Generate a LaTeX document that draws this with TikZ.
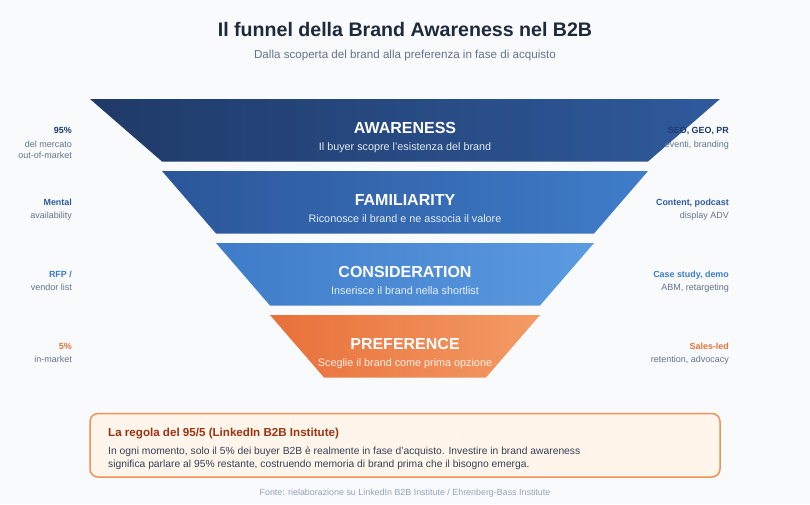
\documentclass[tikz,border=0pt]{standalone}
\usepackage{fontspec}
\setmainfont{Liberation Sans}
\usetikzlibrary{positioning}

\definecolor{bgpage}{HTML}{F8FAFC}
\definecolor{ink}{HTML}{1E293B}
\definecolor{slate}{HTML}{64748B}
\definecolor{bodyink}{HTML}{334155}
\definecolor{mute}{HTML}{94A3B8}
\definecolor{navy}{HTML}{1E3A6E}
\definecolor{midblue}{HTML}{2D5AA0}
\definecolor{skyblue}{HTML}{3D7CC9}
\definecolor{orange}{HTML}{E8733A}
\definecolor{awL}{HTML}{1F3A68}
\definecolor{awR}{HTML}{2F5A9C}
\definecolor{faL}{HTML}{2B5699}
\definecolor{faR}{HTML}{3F7DCA}
\definecolor{coL}{HTML}{3E7CC9}
\definecolor{coR}{HTML}{5B9BE0}
\definecolor{prL}{HTML}{E8703A}
\definecolor{prR}{HTML}{F49B65}
\definecolor{boxfill}{HTML}{FFF5EB}
\definecolor{boxline}{HTML}{F0925A}
\definecolor{boxhead}{HTML}{9A3412}

\tikzset{
  maintitle/.style={anchor=base, inner sep=0, text=ink, font=\fontsize{19.6}{24}\selectfont\bfseries},
  subtitle/.style={anchor=base, inner sep=0, text=slate, font=\fontsize{11.6}{14}\selectfont},
  stagetitle/.style={anchor=base, inner sep=0, text=white, font=\fontsize{16}{19}\selectfont\bfseries},
  stagesub/.style={anchor=base, inner sep=0, text=white, text opacity=0.88, font=\fontsize{10.8}{13}\selectfont},
  sidehead/.style={anchor=base east, inner sep=0, font=\fontsize{8.9}{11}\selectfont\bfseries},
  sidetext/.style={anchor=base east, inner sep=0, text=slate, font=\fontsize{9}{11}\selectfont},
  rulebox/.style={draw=boxline, fill=boxfill, line width=1.5pt, rounded corners=8pt,
    minimum width=630pt, minimum height=63.5pt, inner sep=0},
  boxtext/.style={anchor=base west, inner sep=0, text=bodyink, font=\fontsize{10.3}{13}\selectfont},
}

\begin{document}
\begin{tikzpicture}[x=1pt, y=-1pt]
  \fill[bgpage] (0,0) rectangle (810,504);
  \useasboundingbox (0,0) rectangle (810,504);

  % Heading
  \node[maintitle] (title) at (405,36) {Il funnel della Brand Awareness nel B2B};
  \node[subtitle] (subtitle) at (405,58) {Dalla scoperta del brand alla preferenza in fase di acquisto};

  % Awareness - widest band
  \shade[left color=awL, right color=awR] (90,99) -- (720,99) -- (648,161.5) -- (162,161.5) -- cycle;
  \node[stagetitle] (aw) at (405,133.5) {AWARENESS};
  \node[stagesub] (aw-sub) at (405,150.5) {Il buyer scopre l'esistenza del brand};

  % Familiarity
  \shade[left color=faL, right color=faR] (162,171) -- (648,171) -- (594,233.5) -- (216,233.5) -- cycle;
  \node[stagetitle] (fa) at (405,205.5) {FAMILIARITY};
  \node[stagesub] (fa-sub) at (405,222.5) {Riconosce il brand e ne associa il valore};

  % Consideration
  \shade[left color=coL, right color=coR] (216,243) -- (594,243) -- (540,305.5) -- (270,305.5) -- cycle;
  \node[stagetitle] (co) at (405,277.5) {CONSIDERATION};
  \node[stagesub] (co-sub) at (405,294.5) {Inserisce il brand nella shortlist};

  % Preference - narrow end
  \shade[left color=prL, right color=prR] (270,315) -- (540,315) -- (486,377.5) -- (324,377.5) -- cycle;
  \node[stagetitle] (pr) at (405,349.5) {PREFERENCE};
  \node[stagesub] (pr-sub) at (405,366.5) {Sceglie il brand come prima opzione};

  % Side labels
  \node[sidehead, text=navy] (l-aw) at (72,133) {95\%};
  \node[sidetext] (l-aw-a) at (72,147) {del mercato};
  \node[sidetext] (l-aw-b) at (72,158.5) {out-of-market};
  \node[sidehead, text=navy] (r-aw) at (729,133) {SEO, GEO, PR};
  \node[sidetext] (r-aw-a) at (729,147) {eventi, branding};

  \node[sidehead, text=midblue] (l-fa) at (72,205) {Mental};
  \node[sidetext] (l-fa-a) at (72,218.5) {availability};
  \node[sidehead, text=midblue] (r-fa) at (729,205) {Content, podcast};
  \node[sidetext] (r-fa-a) at (729,218.5) {display ADV};

  \node[sidehead, text=skyblue] (l-co) at (72,277) {RFP /};
  \node[sidetext] (l-co-a) at (72,290.5) {vendor list};
  \node[sidehead, text=skyblue] (r-co) at (729,277) {Case study, demo};
  \node[sidetext] (r-co-a) at (729,290.5) {ABM, retargeting};

  \node[sidehead, text=orange] (l-pr) at (72,349) {5\%};
  \node[sidetext] (l-pr-a) at (72,362.5) {in-market};
  \node[sidehead, text=orange] (r-pr) at (729,349) {Sales-led};
  \node[sidetext] (r-pr-a) at (729,362.5) {retention, advocacy};

  % 95/5 rule box
  \node[rulebox] (rule) at (405,445.25) {};
  \node[boxtext, text=boxhead, font=\fontsize{11.6}{13}\selectfont\bfseries] (rule-head) at (108,436) {La regola del 95/5 (LinkedIn B2B Institute)};
  \node[boxtext] (rule-a) at (108,454) {In ogni momento, solo il 5\% dei buyer B2B è realmente in fase d'acquisto. Investire in brand awareness};
  \node[boxtext] (rule-b) at (108,467.5) {significa parlare al 95\% restante, costruendo memoria di brand prima che il bisogno emerga.};

  % Source
  \node[anchor=base, inner sep=0, text=mute, font=\fontsize{8.9}{10}\selectfont] (source) at (405,495)
    {Fonte: rielaborazione su LinkedIn B2B Institute / Ehrenberg-Bass Institute};
\end{tikzpicture}
\end{document}
